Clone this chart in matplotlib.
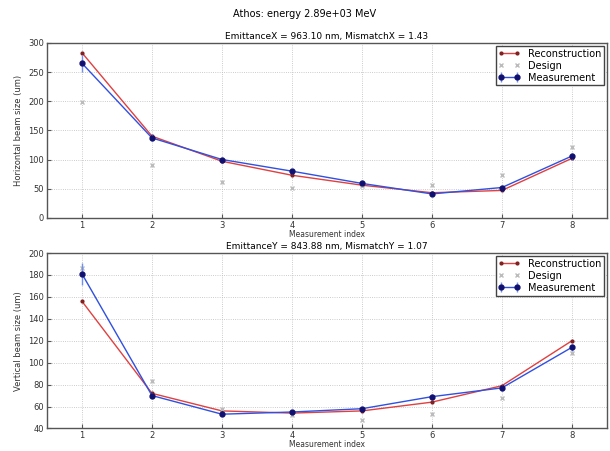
import matplotlib
matplotlib.use("Agg")
import matplotlib.pyplot as plt
import numpy as np

idx = [1, 2, 3, 4, 5, 6, 7, 8]
recon_x = [283, 140, 97, 73, 56, 43, 47, 102]
meas_x = [265, 137, 100, 80, 59, 41, 52, 106]
err_x = [15, 6, 5, 4, 3, 3, 4, 6]
design_x = [198, 90, 62, 52, 55, 57, 73, 121]

recon_y = [156, 72, 56, 54, 56, 64, 79, 120]
meas_y = [181, 70, 53, 55, 58, 69, 77, 114]
err_y = [10, 2, 2, 2, 2, 2, 3, 3]
design_y = [186, 83, 58, 52, 48, 53, 68, 109]

fig = plt.figure(figsize=(6.1, 4.51), dpi=100)
fig.text(0.5, 0.968, "Athos: energy 2.89e+03 MeV", ha="center", va="center", fontsize=7)

ax1 = fig.add_axes([0.077, 0.517, 0.918, 0.388])
ax2 = fig.add_axes([0.077, 0.05, 0.918, 0.389])

def draw(ax, recon, meas, err, design, ylim, yticks, ylabel, title):
    ax.plot(idx, recon, color="#e04040", marker=".", markersize=4, lw=1, label="Reconstruction",
            markeredgecolor="#802020", markerfacecolor="#802020")
    ax.plot(idx, design, ls="none", marker="x", markersize=3, color="#bbbbbb", label="Design")
    ax.errorbar(idx, meas, yerr=err, color="#3050e0", lw=1, marker="o", markersize=3.5,
                markerfacecolor="#101070", markeredgecolor="#101070", ecolor="#7090f0",
                elinewidth=1, capsize=0, label="Measurement")
    ax.set_xlim(0.5, 8.5)
    ax.set_ylim(*ylim)
    ax.set_yticks(yticks)
    ax.set_xticks(idx)
    ax.grid(True, ls=":", color="#bbbbbb", lw=0.6)
    ax.tick_params(labelsize=6, length=3, direction="in", color="#555555", labelcolor="#333333", pad=2)
    ax.set_xlabel("Measurement index", fontsize=5.5, labelpad=0, color="#333333")
    ax.set_ylabel(ylabel, fontsize=6, color="#333333")
    ax.set_title(title, fontsize=6.5, pad=3)
    for s in ax.spines.values():
        s.set_color("#555555")
        s.set_linewidth(1)
    leg = ax.legend(loc="upper right", fontsize=7, numpoints=2, fancybox=False, framealpha=1,
                    borderaxespad=0.3, handlelength=2.2, labelspacing=0.2, borderpad=0.3)
    leg.get_frame().set_edgecolor("#444444")
    leg.get_frame().set_linewidth(1)

draw(ax1, recon_x, meas_x, err_x, design_x, (0, 300), [0, 50, 100, 150, 200, 250, 300],
     "Horizontal beam size (um)", "EmittanceX = 963.10 nm, MismatchX = 1.43")
draw(ax2, recon_y, meas_y, err_y, design_y, (40, 200), [40, 60, 80, 100, 120, 140, 160, 180, 200],
     "Vertical beam size (um)", "EmittanceY = 843.88 nm, MismatchY = 1.07")

fig.savefig("out.png", dpi=100)
